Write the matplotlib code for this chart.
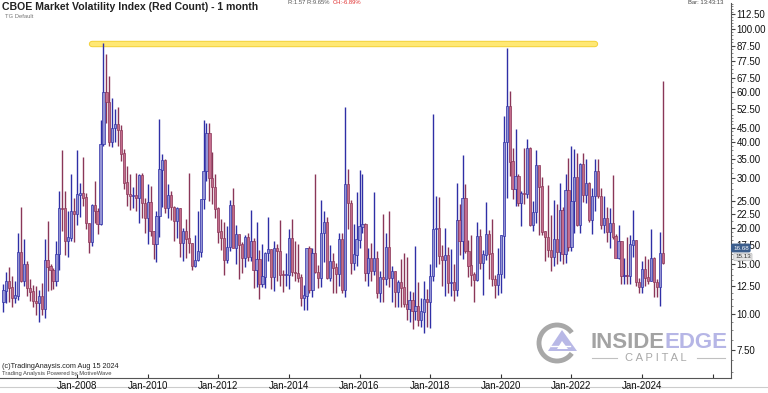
import matplotlib
matplotlib.use("Agg")
import matplotlib.pyplot as plt
import numpy as np
from matplotlib.patches import Arc, Polygon

plt.rcParams['font.family'] = ['Liberation Sans', 'DejaVu Sans']

# VIX monthly bars, Dec 2005 .. Aug 2024 (index 0 = Dec 2005)
first_year, first_month = 2005, 12

opens = [
    11.00,
    12.07, 12.95, 12.34, 11.39, 11.59, 16.44, 13.08, 14.95, 12.31, 11.98, 11.10, 10.91,
    11.56, 10.42, 15.42, 14.64, 14.22, 13.05, 16.23, 23.52, 23.38, 18.00, 18.53, 22.87,
    22.50, 26.20, 26.54, 25.61, 20.79, 17.83, 23.95, 22.94, 20.65, 39.39, 59.89, 55.28,
    40.00, 44.84, 46.35, 44.14, 36.50, 28.92, 26.35, 25.92, 26.01, 25.61, 30.69, 24.51,
    21.68, 24.62, 19.50, 17.59, 22.05, 32.07, 34.54, 23.50, 26.05, 23.70, 21.20, 23.54,
    17.75, 19.53, 18.35, 17.74, 14.75, 15.45, 16.52, 25.25, 31.62, 42.96, 29.96, 27.80,
    23.40, 19.44, 18.43, 15.50, 17.15, 24.06, 17.08, 18.93, 17.47, 15.73, 18.60, 15.87,
    18.02, 14.28, 15.51, 12.70, 13.52, 16.30, 16.86, 13.45, 17.01, 16.60, 13.75, 13.70,
    13.72, 18.41, 14.00, 13.88, 13.41, 11.40, 11.57, 16.95, 12.09, 16.31, 14.03, 13.33,
    19.20, 20.97, 13.34, 15.29, 14.55, 13.84, 18.23, 12.12, 28.43, 24.50, 15.07, 16.13,
    18.21, 20.20, 20.55, 13.95, 15.70, 14.19, 15.63, 11.87, 13.42, 13.29, 17.06, 13.33,
    14.04, 11.99, 12.92, 12.37, 10.82, 10.41, 11.18, 10.26, 10.59, 9.51, 10.18, 11.28,
    11.04, 13.54, 19.85, 19.97, 15.93, 15.43, 16.09, 12.83, 12.86, 12.12, 21.23, 18.07,
    25.42, 16.57, 14.78, 13.71, 13.12, 18.71, 15.08, 16.12, 18.98, 16.24, 13.22, 12.62,
    13.78, 18.84, 40.11, 53.54, 34.15, 27.51, 30.43, 24.46, 26.41, 26.37, 38.02, 20.57,
    22.75, 33.09, 27.95, 19.40, 18.61, 16.76, 15.83, 18.24, 16.48, 23.14, 16.26, 27.19,
    17.22, 24.83, 30.15, 20.56, 33.40, 26.19, 28.71, 21.33, 25.87, 31.62, 25.88, 20.58,
    21.67, 19.40, 20.70, 18.70, 15.78, 17.94, 13.59, 13.63, 13.57, 17.52, 18.14, 12.92,
    12.45, 14.35, 13.40, 13.01, 15.65, 12.92, 12.44, 16.36,
]
highs = [
    12.70,
    14.0, 14.6, 13.6, 13.1, 19.2, 23.8, 18.3, 15.4, 13.3, 12.6, 12.5, 12.1,
    12.8, 18.3, 21.2, 15.0, 14.5, 18.0, 27.0, 37.5, 27.0, 22.9, 31.1, 25.5,
    37.6, 28.7, 35.6, 26.6, 20.8, 24.4, 29.3, 23.5, 48.0, 89.5, 81.5, 68.6,
    57.4, 52.6, 53.2, 46.0, 37.9, 33.0, 31.0, 28.0, 31.2, 31.0, 31.2, 25.5,
    28.5, 28.1, 19.6, 23.0, 48.2, 36.3, 35.1, 28.5, 27.0, 23.9, 23.8, 23.6,
    20.0, 21.6, 31.3, 17.8, 18.9, 23.0, 25.3, 48.0, 46.9, 46.9, 37.0, 30.9,
    23.8, 21.5, 21.1, 20.4, 25.1, 27.7, 20.5, 19.0, 17.9, 19.0, 19.2, 23.2,
    18.5, 21.0, 16.8, 17.6, 16.5, 21.9, 16.9, 18.0, 17.6, 21.3, 14.3, 16.3,
    19.9, 21.5, 18.0, 17.6, 13.8, 12.6, 17.1, 17.3, 17.0, 31.1, 14.8, 25.2,
    23.0, 21.9, 17.5, 16.3, 15.1, 19.3, 19.2, 53.3, 32.2, 25.2, 20.7, 26.8,
    32.1, 30.9, 20.8, 17.0, 17.7, 26.7, 16.6, 14.1, 22.5, 19.3, 23.0, 14.7,
    14.2, 13.2, 15.6, 16.3, 15.9, 12.0, 11.9, 17.3, 12.9, 11.4, 13.1, 12.2,
    15.0, 50.3, 26.0, 25.7, 17.4, 20.0, 17.2, 16.9, 15.0, 28.8, 24.4, 36.2,
    28.5, 18.2, 19.0, 14.0, 21.0, 19.8, 16.8, 24.8, 19.7, 21.5, 13.7, 17.0,
    19.0, 49.5, 85.5, 60.6, 38.3, 44.4, 31.0, 27.0, 38.3, 41.2, 38.5, 25.0,
    37.5, 33.1, 30.2, 19.5, 28.4, 22.3, 25.1, 24.3, 28.8, 23.8, 31.1, 35.3,
    38.9, 37.8, 36.6, 34.0, 36.6, 35.1, 29.0, 27.7, 34.9, 34.9, 27.7, 26.0,
    23.8, 23.5, 30.8, 19.1, 20.6, 18.0, 15.7, 18.6, 18.9, 23.1, 18.2, 13.4,
    15.3, 16.0, 15.6, 19.9, 15.8, 13.3, 19.4, 65.7,
]
lows = [
    10.20,
    10.9, 11.0, 10.6, 10.9, 11.2, 12.9, 12.5, 11.6, 11.1, 10.6, 9.9, 9.4,
    9.9, 9.7, 12.0, 12.1, 12.2, 12.5, 14.3, 19.5, 16.1, 15.9, 18.0, 17.9,
    20.6, 21.9, 23.9, 19.9, 16.3, 17.3, 20.8, 19.1, 20.5, 39.0, 46.9, 38.9,
    38.6, 40.2, 38.9, 34.4, 27.5, 24.0, 23.1, 23.5, 22.9, 20.8, 21.8, 19.2,
    17.6, 18.8, 15.6, 15.2, 18.6, 23.7, 22.7, 21.8, 21.3, 18.0, 18.5, 15.9,
    15.3, 15.7, 16.3, 14.3, 14.6, 15.3, 15.9, 23.4, 29.3, 24.9, 24.4, 21.7,
    17.7, 16.8, 13.7, 15.1, 16.6, 17.0, 15.0, 13.3, 13.9, 14.6, 15.3, 15.4,
    12.3, 12.4, 11.3, 12.4, 12.3, 15.3, 12.2, 12.0, 13.0, 12.5, 11.9, 12.5,
    12.2, 13.6, 13.0, 12.9, 10.7, 10.3, 10.3, 11.8, 11.5, 13.9, 12.3, 12.4,
    15.2, 13.3, 13.0, 11.8, 11.8, 12.5, 11.8, 11.5, 19.8, 13.8, 14.3, 14.7,
    17.0, 19.3, 13.1, 12.5, 13.1, 13.7, 11.4, 11.0, 11.0, 12.6, 12.4, 11.0,
    10.6, 10.6, 10.6, 10.6, 9.56, 9.37, 8.84, 9.5, 9.1, 9.0, 8.56, 9.0,
    8.9, 13.0, 14.6, 15.0, 12.5, 11.6, 11.8, 11.6, 11.1, 11.6, 16.1, 15.6,
    16.4, 13.5, 12.5, 11.0, 13.0, 14.4, 11.7, 15.5, 13.3, 12.5, 11.4, 11.7,
    11.8, 13.4, 25.6, 30.5, 25.4, 24.0, 23.9, 20.3, 24.3, 25.5, 20.3, 19.5,
    20.9, 19.0, 18.9, 15.4, 15.9, 14.1, 14.7, 15.0, 15.4, 15.0, 15.1, 16.6,
    16.6, 19.3, 20.4, 19.3, 24.8, 24.6, 21.1, 19.1, 22.9, 25.5, 19.9, 19.3,
    17.9, 17.0, 18.4, 15.7, 15.6, 12.7, 12.7, 12.7, 12.7, 15.9, 12.5, 11.8,
    11.8, 12.5, 12.7, 13.0, 11.5, 11.5, 10.7, 15.0,
]
closes = [
    12.07,
    12.95, 12.34, 11.39, 11.59, 16.44, 13.08, 14.95, 12.31, 11.98, 11.10, 10.91, 11.56,
    10.42, 15.42, 14.64, 14.22, 13.05, 16.23, 23.52, 23.38, 18.00, 18.53, 22.87, 22.50,
    26.20, 26.54, 25.61, 20.79, 17.83, 23.95, 22.94, 20.65, 39.39, 59.89, 55.28, 40.00,
    44.84, 46.35, 44.14, 36.50, 28.92, 26.35, 25.92, 26.01, 25.61, 30.69, 24.51, 21.68,
    24.62, 19.50, 17.59, 22.05, 32.07, 34.54, 23.50, 26.05, 23.70, 21.20, 23.54, 17.75,
    19.53, 18.35, 17.74, 14.75, 15.45, 16.52, 25.25, 31.62, 42.96, 29.96, 27.80, 23.40,
    19.44, 18.43, 15.50, 17.15, 24.06, 17.08, 18.93, 17.47, 15.73, 18.60, 15.87, 18.02,
    14.28, 15.51, 12.70, 13.52, 16.30, 16.86, 13.45, 17.01, 16.60, 13.75, 13.70, 13.72,
    18.41, 14.00, 13.88, 13.41, 11.40, 11.57, 16.95, 12.09, 16.31, 14.03, 13.33, 19.20,
    20.97, 13.34, 15.29, 14.55, 13.84, 18.23, 12.12, 28.43, 24.50, 15.07, 16.13, 18.21,
    20.20, 20.55, 13.95, 15.70, 14.19, 15.63, 11.87, 13.42, 13.29, 17.06, 13.33, 14.04,
    11.99, 12.92, 12.37, 10.82, 10.41, 11.18, 10.26, 10.59, 9.51, 10.18, 11.28, 11.04,
    13.54, 19.85, 19.97, 15.93, 15.43, 16.09, 12.83, 12.86, 12.12, 21.23, 18.07, 25.42,
    16.57, 14.78, 13.71, 13.12, 18.71, 15.08, 16.12, 18.98, 16.24, 13.22, 12.62, 13.78,
    18.84, 40.11, 53.54, 34.15, 27.51, 30.43, 24.46, 26.41, 26.37, 38.02, 20.57, 22.75,
    33.09, 27.95, 19.40, 18.61, 16.76, 15.83, 18.24, 16.48, 23.14, 16.26, 27.19, 17.22,
    24.83, 30.15, 20.56, 33.40, 26.19, 28.71, 21.33, 25.87, 31.62, 25.88, 20.58, 21.67,
    19.40, 20.70, 18.70, 15.78, 17.94, 13.59, 13.63, 13.57, 17.52, 18.14, 12.92, 12.45,
    14.35, 13.40, 13.01, 15.65, 12.92, 12.44, 16.36, 15.13,
]

y_ticks = [7.5, 10, 12.5, 15, 17.5, 20, 22.5, 25, 30, 35, 40, 45, 52.5, 60, 67.5, 77.5, 87.5, 100, 112.5]
x_years = [2008, 2010, 2012, 2014, 2016, 2018, 2020, 2022, 2024, 2026]

# yellow resistance line (level, from month index, to month index)
line_level = 88.4
line_from, line_to = 30, 201

o = np.array(opens)
h = np.array(highs)
l = np.array(lows)
c = np.array(closes)
x = np.arange(len(c))
up = c >= o

fig = plt.figure(figsize=(7.68, 3.93), dpi=100)
ax = fig.add_axes([0, 15 / 393, 731 / 768, 375 / 393])
ax.set_yscale('log')

blue_wick, blue_fill = '#2f2fa6', '#9494d4'
red_wick, red_fill = '#8a3658', '#c46c8c'

wick_cols = np.where(up, blue_wick, red_wick)
fill_cols = np.where(up, blue_fill, red_fill)
ax.vlines(x, l, h, colors=wick_cols, linewidth=1.0, zorder=2)
body_lo = np.minimum(o, c)
body_hi = np.maximum(o, c) * 1.004
ax.bar(x, body_hi - body_lo, bottom=body_lo, width=0.75, color=fill_cols,
       edgecolor=wick_cols, linewidth=0.5, zorder=3)

# yellow line
ax.plot([line_from, line_to], [line_level, line_level], color='#f3d23c', lw=4.6,
        solid_capstyle='round', zorder=1)
ax.plot([line_from, line_to], [line_level, line_level], color='#ffe874', lw=3.2,
        solid_capstyle='round', zorder=1)

month0 = first_year * 12 + first_month - 1
jan08 = 2008 * 12 - month0
ax.set_xlim(jan08 - 77 / 2.943, jan08 + 654 / 2.943)
ax.set_ylim(5.96, 123.4)

xt = [yr * 12 - month0 for yr in x_years]
ax.set_xticks(xt)
ax.set_xticklabels(['Jan-%d' % yr if yr < 2026 else '' for yr in x_years])
ax.xaxis.set_minor_locator(matplotlib.ticker.NullLocator())
ax.tick_params(axis='x', direction='in', length=3, labelsize=7, pad=2, colors='#333333',
               labelcolor='#111111')

ax.yaxis.tick_right()
ax.set_yticks(y_ticks)
ax.set_yticklabels(['%.2f' % v for v in y_ticks])
minor = list(np.arange(6.25, 20, 0.625)) + list(np.arange(20, 50, 1.25)) + list(np.arange(50, 125, 2.5))
ax.yaxis.set_minor_locator(matplotlib.ticker.FixedLocator(minor))
ax.yaxis.set_minor_formatter(matplotlib.ticker.NullFormatter())
ax.tick_params(axis='y', which='major', direction='out', length=3, labelsize=7, pad=1,
               colors='#444444', labelcolor='#111111')
ax.tick_params(axis='y', which='minor', direction='out', length=1.5, colors='#777777')

for s in ['left', 'top']:
    ax.spines[s].set_visible(False)
ax.spines['right'].set_color('#555555')
ax.spines['bottom'].set_color('#555555')
ax.spines['right'].set_linewidth(0.8)
ax.spines['bottom'].set_linewidth(0.8)

# overlay in pixel coordinates for annotations and watermark
ov = fig.add_axes([0, 0, 1, 1], zorder=-1)
ov.set_xlim(0, 768)
ov.set_ylim(393, 0)
ov.axis('off')
ax.patch.set_alpha(0)

fig.text(2 / 768, 1 - 7 / 393, 'CBOE Market Volatility Index (Red Count) - 1 month',
         fontsize=7.6, fontweight='bold', color='#222222', va='center', ha='left')
fig.text(5 / 768, 1 - 16 / 393, 'TG Default', fontsize=4.2, color='#777777', va='center')
fig.text(288 / 768, 1 - 3 / 393, 'R:1.57 R:9.65%', fontsize=4.2, color='#555555', va='center')
fig.text(333 / 768, 1 - 3 / 393, 'CH:-6.89%', fontsize=4.2, color='#e03030', va='center')
fig.text(688 / 768, 1 - 3 / 393, 'Bar: 13:43:13', fontsize=4.2, color='#444444', va='center')
fig.text(2 / 768, 1 - 366 / 393, '(c)TradingAnaysis.com Aug 15 2024', fontsize=5.2,
         color='#222222', va='center')
fig.text(2 / 768, 1 - 373 / 393, 'Trading Analysis Powered by MotiveWave', fontsize=4.2,
         color='#444444', va='center')

# last price tags
fig.text(733 / 768, 1 - 248 / 393, '16.68', fontsize=4.5, color='white', va='center',
         bbox=dict(boxstyle='round,pad=0.2', fc='#3b5d8c', ec='#3b5d8c'))
fig.text(735 / 768, 1 - 257 / 393, '15.13', fontsize=4.5, color='#333333', va='center',
         bbox=dict(boxstyle='round,pad=0.2', fc='#e4e4e4', ec='#bbbbbb', lw=0.5))

# watermark
ov.add_patch(Arc((557, 343), 36, 36, theta1=35, theta2=325, color='#a8a8a8', lw=3.5))
ov.add_patch(Polygon([[548, 351], [562, 330], [577, 351]], closed=True, fc='#b8b8e6', ec='none'))
ov.add_patch(Polygon([[557, 349], [562, 341], [568, 349]], closed=True, fc='white', ec='none'))
ov.plot([551, 570], [346, 346], color='white', lw=1.0)
ov.text(590, 342, 'INSIDE', fontsize=16, fontweight='bold', color='#a3a3a3', va='center', ha='left')
ov.text(665, 342, 'EDGE', fontsize=16, fontweight='bold', color='#b6b6e6', va='center', ha='left')
ov.text(656, 358, 'C A P I T A L', fontsize=8, color='#a8a8a8', va='center', ha='center')
ov.plot([592, 617], [358, 358], color='#c0c0c0', lw=0.8)
ov.plot([697, 725], [358, 358], color='#c0c0c0', lw=0.8)
ov.plot([0, 768], [387, 387], color='#cccccc', lw=0.8)

fig.savefig('out.png', dpi=100, facecolor='white')
